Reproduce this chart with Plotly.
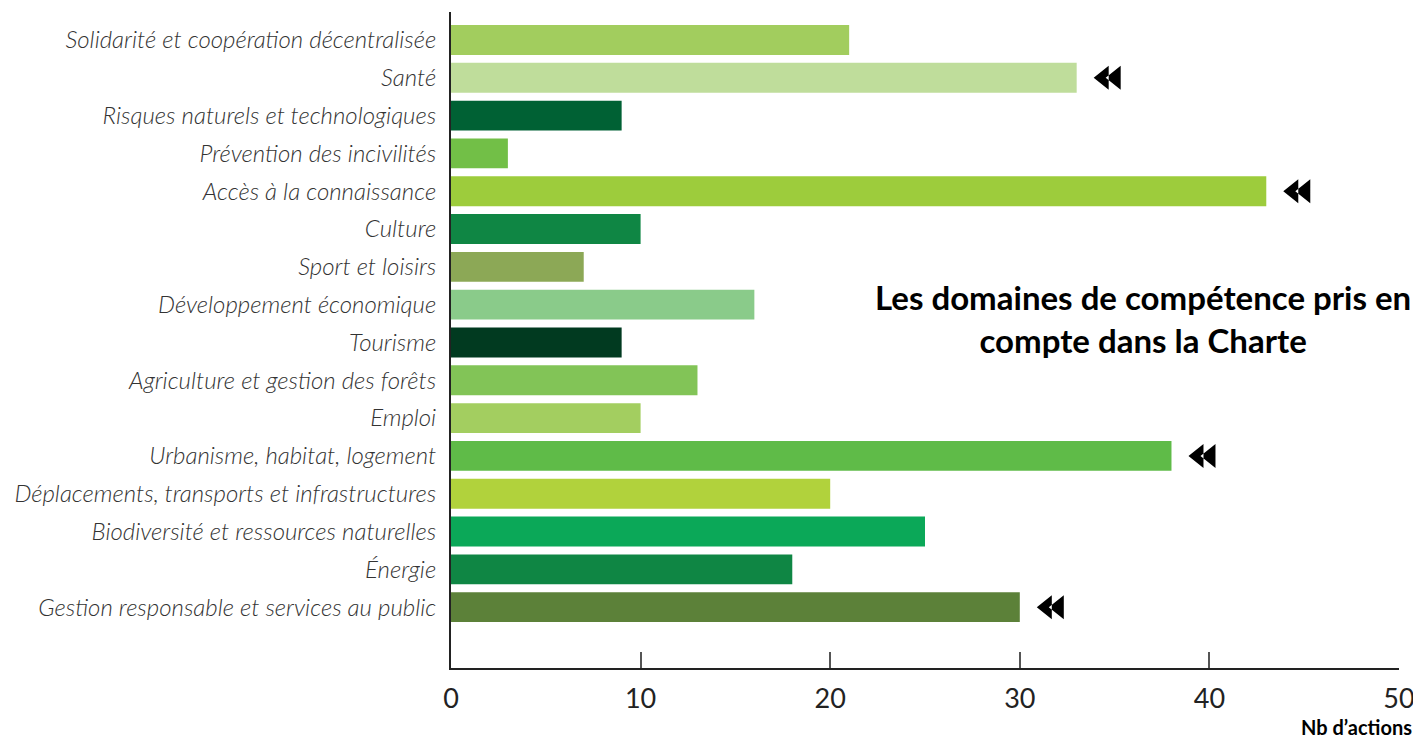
import plotly.graph_objects as go

categories = [
    "Solidarité et coopération décentralisée",
    "Santé",
    "Risques naturels et technologiques",
    "Prévention des incivilités",
    "Accès à la connaissance",
    "Culture",
    "Sport et loisirs",
    "Développement économique",
    "Tourisme",
    "Agriculture et gestion des forêts",
    "Emploi",
    "Urbanisme, habitat, logement",
    "Déplacements, transports et infrastructures",
    "Biodiversité et ressources naturelles",
    "Énergie",
    "Gestion responsable et services au public",
]
values = [21, 33, 9, 3, 43, 10, 7, 16, 9, 13, 10, 38, 20, 25, 18, 30]
colors = [
    "#A2CD5E", "#BFDD9B", "#006134", "#72BF47", "#9DCC3C", "#0F8644",
    "#8CA856", "#8ACB8A", "#013A20", "#82C457", "#A3CE60", "#5FBB48",
    "#B1D23C", "#0BA858", "#0F8644", "#5C8139",
]
highlighted = ["Santé", "Accès à la connaissance", "Urbanisme, habitat, logement",
               "Gestion responsable et services au public"]
x_ticks = [0, 10, 20, 30, 40, 50]
title_text = "Les domaines de compétence pris en<br>compte dans la Charte"
x_title = "Nb d’actions"

# double-triangle marker, in pixels relative to the bar end
ARROW_PATH = "M17,0 L32,12 L32,-12 Z M29,0 L44,12 L44,-12 Z"

fig = go.Figure()
fig.add_trace(go.Bar(
    x=values, y=categories, orientation="h",
    marker=dict(color=colors, line=dict(width=0)),
    width=0.79, hoverinfo="x+y",
))

shapes = []
for cat, val in zip(categories, values):
    if cat in highlighted:
        shapes.append(dict(
            type="path", xref="x", yref="y",
            xsizemode="pixel", ysizemode="pixel",
            xanchor=val, yanchor=cat, path=ARROW_PATH,
            fillcolor="#000000", line=dict(width=0),
        ))

annotations = [
    dict(
        x=0.73, y=0.5335, xref="paper", yref="paper", text=title_text,
        showarrow=False, xanchor="center", yanchor="middle", align="center",
        font=dict(family="Lato", size=33, color="#000000", weight="bold"),
    ),
    dict(
        x=1.016, y=-0.09, xref="paper", yref="paper", text=x_title,
        showarrow=False, xanchor="right", yanchor="middle",
        font=dict(family="Lato", size=20, color="#000000", weight="bold"),
    ),
]

fig.update_layout(
    width=1413, height=731,
    margin=dict(l=443, r=22, t=4, b=71),
    paper_bgcolor="white", plot_bgcolor="white",
    showlegend=False,
    annotations=annotations,
    shapes=shapes,
    xaxis=dict(
        range=[0, 50], tickvals=x_ticks, ticks="inside", ticklen=16,
        tickwidth=2, tickcolor="#555555", showgrid=False, zeroline=False,
        showline=True, linecolor="#222222", linewidth=2,
        tickfont=dict(family="Lato", size=27, color="#222222"),
        ticklabelstandoff=6, automargin=False,
    ),
    yaxis=dict(
        categoryorder="array", categoryarray=categories,
        range=[16.61, -0.74], showgrid=False, zeroline=False,
        showline=True, linecolor="#222222", linewidth=2, ticks="",
        tickfont=dict(family="Lato", size=24, color="#333333",
                      style="italic", weight=300),
        ticklabelstandoff=8, automargin=False,
    ),
)

fig.write_html("out.html")
